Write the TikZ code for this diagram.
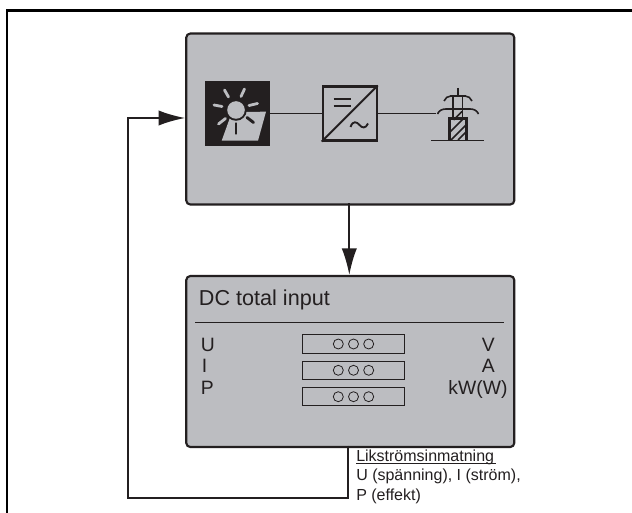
\documentclass[tikz,border=0pt]{standalone}
\usepackage{fontspec}
\setmainfont{Liberation Sans}
\usetikzlibrary{arrows.meta}
\definecolor{panel}{HTML}{BCBDC1}
\definecolor{ink}{HTML}{231F20}
\tikzset{
  x=0.75pt,y=-0.75pt,
  frameline/.style={draw=black,line width=1.7pt},
  panelbox/.style={draw=ink,fill=panel,line width=1.6pt,rounded corners=3pt,inner sep=0pt,anchor=north west},
  wire/.style={draw=ink,line width=1.4pt},
  flow/.style={draw=ink,line width=1.5pt,-{Latex[length=20pt,width=11.5pt]}},
  readout/.style={draw=ink,fill=panel,line width=0.85pt,minimum width=76.5pt,minimum height=13.8pt,inner sep=0pt,anchor=center},
  dots/.style={draw=ink,line width=0.6pt,fill=none},
  lbl/.style={inner sep=0pt,font=\fontsize{14.5pt}{14.5pt}\selectfont,text=ink},
  small/.style={inner sep=0pt,font=\fontsize{12pt}{12pt}\selectfont,text=ink,anchor=base west},
  ray/.style={draw=panel,line width=2.1pt,line cap=round},
  darkray/.style={draw=ink,line width=2.2pt,line cap=round},
  thin tower/.style={draw=ink,line width=1.2pt},
}
\begin{document}
\begin{tikzpicture}
\useasboundingbox (0,0) rectangle (632,513);
\fill[white] (0,0) rectangle (632,513);
\draw[frameline] (632,10.5) -- (7,10.5) -- (7,513);
% panels
\node[panelbox,minimum width=246pt,minimum height=128.2pt] (top) at (185.2,32.5) {};
\node[panelbox,minimum width=246pt,minimum height=128.2pt] (bottom) at (185.2,275) {};
\coordinate (topL) at (top.west |- 0,118);
\coordinate (topB) at (349.3,203.5);
\coordinate (botT) at (349.3,275);
\coordinate (botB) at (347.7,445.5);
\coordinate (c1) at (347.7,497.7);
\coordinate (c2) at (128,497.7);
\coordinate (c3) at (128,118);
\draw[flow] (topB) -- (botT);
\draw[flow] (botB) -- (c1) -- (c2) -- (c3) -- (topL);
% sun panel
\node[fill=ink,minimum size=48.75pt,inner sep=0pt] (sun) at (237.5,113.5) {};
\fill[panel] (232,112) -- (266,111.7) -- (258,140.7) -- (221.7,140.7) -- cycle;
\fill[ink] (236,110) circle (10.8);
\fill[panel] (236,110) circle (8.8);
\draw[ray] (224.5,90) -- (228.5,97);
\draw[ray] (244.5,89) -- (241,96.5);
\draw[ray] (214,105) -- (222,106.5);
\draw[ray] (257.5,103.5) -- (249,105.5);
\draw[ray] (218.5,124) -- (225.5,118.5);
\draw[darkray] (253.5,122.5) -- (247,117.5);
\draw[darkray] (236,123.5) -- (236,133.5);
% inverter
\node[draw=ink,line width=1.6pt,minimum size=40.5pt,inner sep=0pt] (inv) at (349.7,113.5) {};
\draw[wire] (inv.south west) -- (inv.north east);
\draw[ink,line width=1pt] (333.5,99) -- (351,99) (333.5,106) -- (351,106);
\draw[ink,line width=1.4pt] (350.5,127) .. controls (353,120) and (357,122) .. (359.5,125) .. controls (362,128) and (365.5,129) .. (368,123.5);
% tower
\coordinate (tw) at (435.5,113.5);
\draw[wire] (sun.east |- tw) -- (inv.west);
\draw[wire] (inv.east) -- (tw);
\draw[ink,line width=1.6pt] (449.5,140) -- (449.5,118.5) -- (466.5,118.5) -- (466.5,140);
\draw[ink,line width=1.4pt] (453,118.5) -- (453,97) (462.5,118.5) -- (462.5,97);
\draw[ink,line width=1.4pt] (457.8,88) -- (457.8,97);
\draw[thin tower] (451,140) -- (466,125) (458,140) -- (466,132) (450,132) -- (463,119) (453.5,120) -- (462,111.5);
\draw[ink,line width=2pt] (446,109) -- (470,109);
\draw[ink,line width=2pt] (450,96) -- (466,96);
\draw[thin tower] (437.5,114) .. controls (439,110.5) and (442,109) .. (446,109);
\draw[thin tower] (470,109) .. controls (474,109) and (477,110.5) .. (478.5,114);
\draw[thin tower] (444,101) .. controls (445,98) and (448,96) .. (451,96);
\draw[thin tower] (465,96) .. controls (468,96) and (471,98) .. (472,101);
\draw[ink,line width=1.4pt] (431,140.5) -- (484,140.5);
% bottom panel
\node[lbl,anchor=base west,font=\fontsize{16.2pt}{16.2pt}\selectfont] (title) at (198.7,306) {DC total input};
\draw[ink,line width=0.8pt] (195,322.5) -- (504,322.5);
\node[readout] (r1) at (353.5,344) {};
\node[readout] (r2) at (353.5,370.3) {};
\node[readout] (r3) at (353.5,396.7) {};
\foreach \r in {r1,r2,r3}{
  \foreach \d in {-15.2,0,15.2}{
    \draw[dots] ([xshift=\d*0.75pt]\r.center) circle (5);
  }
}
\node[lbl,anchor=base west] (lu) at (200.5,351.7) {U};
\node[lbl,anchor=base west] (li) at (201.5,373) {I};
\node[lbl,anchor=base west] (lp) at (200.5,394.3) {P};
\node[lbl,anchor=base east] (lv) at (495,351.7) {V};
\node[lbl,anchor=base east] (la) at (495,373) {A};
\node[lbl,anchor=base east] (lk) at (507.7,394.3) {kW(W)};
\node[small] (t1) at (356,461) {Likströmsinmatning};
\draw[ink,line width=0.5pt] (356,463.2) -- (495.5,463.2);
\node[small] (t2) at (356,480.7) {U (spänning), I (ström),};
\node[small] (t3) at (356,500) {P (effekt)};
\end{tikzpicture}
\end{document}
